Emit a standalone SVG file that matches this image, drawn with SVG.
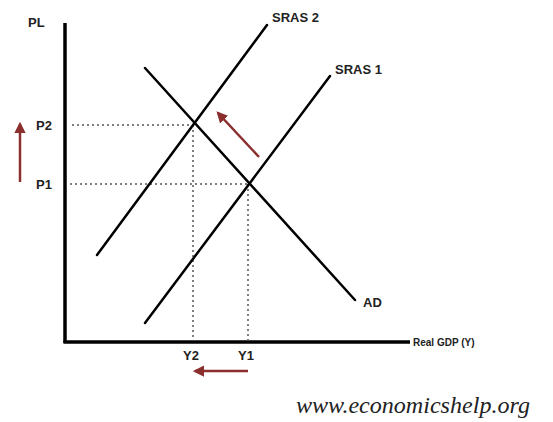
<svg xmlns="http://www.w3.org/2000/svg" width="553" height="422" viewBox="0 0 553 422">
<defs>
<style>
.axis{stroke:#000;stroke-width:3.5;fill:none}
.curve{stroke:#000;stroke-width:2.5;fill:none;stroke-linecap:round}
.dot{stroke:#555;stroke-width:1.5;stroke-dasharray:2 3;fill:none}
.red{stroke:#8b2e2e;stroke-width:2.5;fill:none}
.lbl{font-family:"Liberation Sans",Arial,sans-serif;font-size:13px;font-weight:bold;fill:#222}
.small{font-family:"Liberation Sans",Arial,sans-serif;font-size:10px;font-weight:bold;fill:#222}
.url{font-family:"Liberation Serif","Times New Roman",serif;font-style:italic;font-size:23px;fill:#222}
</style>
<marker id="ah" viewBox="0 0 10 10" refX="8" refY="5" markerWidth="4.5" markerHeight="4.5" orient="auto">
<path d="M0,0 L10,5 L0,10 z" fill="#8b2e2e"/>
</marker>
</defs>
<rect width="553" height="422" fill="#fff"/>
<g id="axes">
<line class="axis" x1="65" y1="23" x2="65" y2="343"/>
<line class="axis" x1="63.5" y1="342" x2="410" y2="342"/>
<text class="lbl" x="28" y="27">PL</text>
<text class="small" x="413" y="346">Real GDP (Y)</text>
</g>
<g id="connectors">
<line class="dot" x1="72" y1="125" x2="193" y2="125"/>
<line class="dot" x1="70" y1="184" x2="248" y2="184"/>
<line class="dot" x1="193" y1="125" x2="193" y2="340"/>
<line class="dot" x1="248" y1="184" x2="248" y2="340"/>
<line class="red" x1="20" y1="182" x2="20" y2="124" marker-end="url(#ah)"/>
<line class="red" x1="259" y1="157" x2="218" y2="113" marker-end="url(#ah)"/>
<line class="red" x1="248" y1="371" x2="195" y2="371" marker-end="url(#ah)"/>
</g>
<g id="AD">
<line class="curve" x1="145" y1="68" x2="355" y2="300"/>
<text class="lbl" x="363" y="307">AD</text>
</g>
<g id="SRAS2">
<line class="curve" x1="97" y1="255" x2="267" y2="25"/>
<text class="lbl" x="272" y="22">SRAS 2</text>
</g>
<g id="SRAS1">
<line class="curve" x1="145" y1="323" x2="330" y2="76"/>
<text class="lbl" x="335" y="74">SRAS 1</text>
</g>
<g id="labels">
<text class="lbl" x="36" y="130">P2</text>
<text class="lbl" x="36" y="189">P1</text>
<text class="lbl" x="183" y="360">Y2</text>
<text class="lbl" x="238" y="360">Y1</text>
</g>
<text class="url" x="296" y="413" textLength="234" lengthAdjust="spacingAndGlyphs">www.economicshelp.org</text>
</svg>
